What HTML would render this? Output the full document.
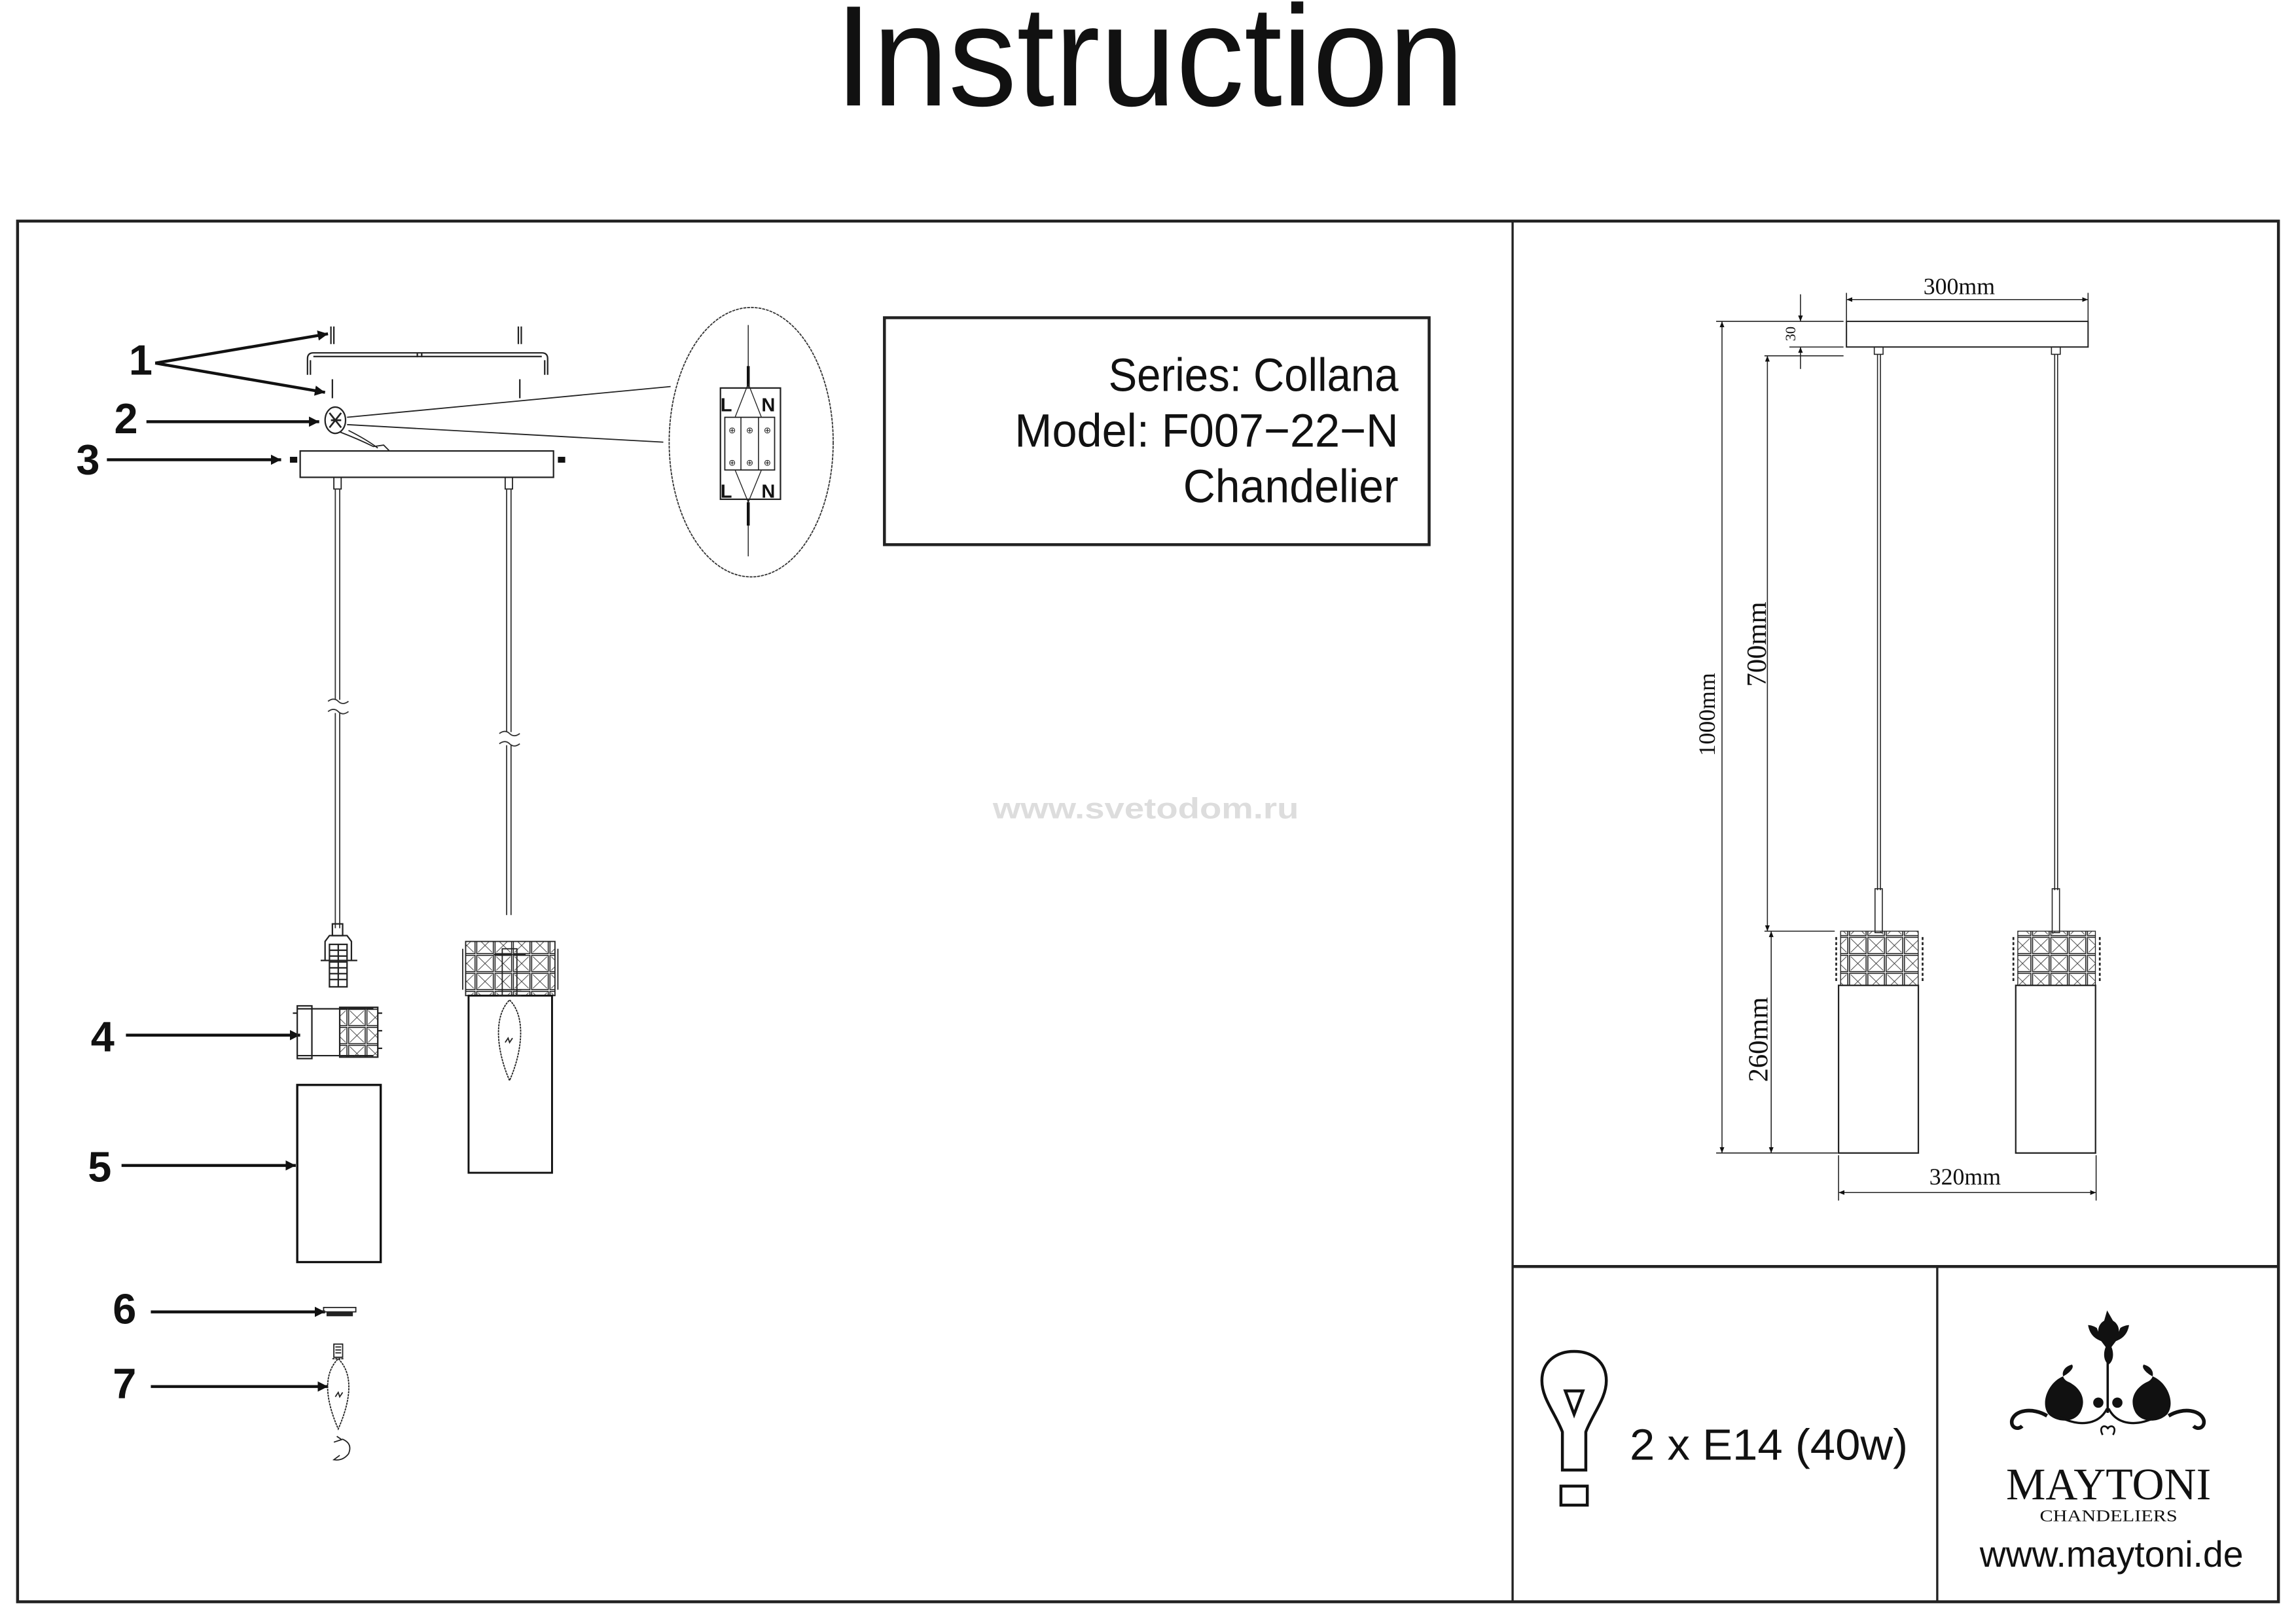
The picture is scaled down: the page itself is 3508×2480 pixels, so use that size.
<!DOCTYPE html>
<html><head><meta charset="utf-8"><style>
html,body{margin:0;padding:0;background:#fff;}
svg{display:block;}
text{font-family:"Liberation Sans",sans-serif;}
.serif{font-family:"Liberation Serif",serif;}
</style></head><body>
<svg width="3508" height="2480" viewBox="0 0 1568 1108.5" xmlns="http://www.w3.org/2000/svg">
<defs>
<marker id="ah" viewBox="0 0 10 10" refX="10" refY="5" markerWidth="7" markerHeight="7" orient="auto-start-reverse" markerUnits="userSpaceOnUse"><path d="M0,0 L10,5 L0,10 z" fill="#111"/></marker>
<marker id="ahs" viewBox="0 0 10 10" refX="10" refY="5" markerWidth="4" markerHeight="4" orient="auto-start-reverse" markerUnits="userSpaceOnUse"><path d="M0,1 L10,5 L0,9 z" fill="#111"/></marker>
<pattern id="cr" width="12.5" height="12.3" patternUnits="userSpaceOnUse">
<rect x="0.6" y="0.6" width="11.3" height="11.1" fill="none" stroke="#222" stroke-width="0.7"/>
<path d="M1.5,1.5 L11,10.8 M11,1.5 L1.5,10.8" stroke="#333" stroke-width="0.4"/>
</pattern>
</defs>
<rect width="1568" height="1108.5" fill="#fff"/>

<text x="570" y="72" font-size="98" textLength="430" lengthAdjust="spacingAndGlyphs" fill="#111">Instruction</text>

<rect x="12" y="151" width="1544" height="943" fill="none" stroke="#222" stroke-width="2"/>
<line x1="1033" y1="151" x2="1033" y2="1094" stroke="#222" stroke-width="1.5"/>
<line x1="1033" y1="865" x2="1556" y2="865" stroke="#222" stroke-width="2"/>
<line x1="1323" y1="865" x2="1323" y2="1094" stroke="#222" stroke-width="1.5"/>

<rect x="604" y="217" width="372" height="155" fill="none" stroke="#222" stroke-width="2"/>
<text x="757" y="267" font-size="32" textLength="198" lengthAdjust="spacingAndGlyphs" fill="#111">Series: Collana</text>
<text x="693" y="305" font-size="32" textLength="262" lengthAdjust="spacingAndGlyphs" fill="#111">Model: F007−22−N</text>
<text x="808" y="343" font-size="32" textLength="147" lengthAdjust="spacingAndGlyphs" fill="#111">Chandelier</text>

<text x="678" y="559" font-size="20" font-weight="bold" textLength="209" lengthAdjust="spacingAndGlyphs" fill="#ddd">www.svetodom.ru</text>

<g font-weight="bold" font-size="29" fill="#111">
<text x="88" y="256">1</text>
<text x="78" y="296">2</text>
<text x="52" y="324">3</text>
<text x="62" y="718">4</text>
<text x="60" y="807">5</text>
<text x="77" y="904">6</text>
<text x="77" y="955">7</text>
</g>
<g stroke="#111" stroke-width="2" fill="none">
<line x1="106" y1="248" x2="224" y2="228" marker-end="url(#ah)"/>
<line x1="106" y1="248" x2="222" y2="268" marker-end="url(#ah)"/>
<line x1="100" y1="288" x2="218" y2="288" marker-end="url(#ah)"/>
<line x1="73" y1="314" x2="192" y2="314" marker-end="url(#ah)"/>
<line x1="86" y1="707" x2="205" y2="707" marker-end="url(#ah)"/>
<line x1="83" y1="796" x2="202" y2="796" marker-end="url(#ah)"/>
<line x1="103" y1="896" x2="222" y2="896" marker-end="url(#ah)"/>
<line x1="103" y1="947" x2="224" y2="947" marker-end="url(#ah)"/>
</g>

<g stroke="#222" stroke-width="1" fill="none">
<path d="M226,223 v12 M228,223 v12"/>
<path d="M354,223 v12 M356,223 v12"/>
<path d="M210,256 V245 Q210,241 214,241 H370 Q374,241 374,245 V256"/>
<path d="M212,256 V246 M372,256 V246 M214,243.5 H370"/>
<path d="M285,241 v3 M288,241 v3"/>
<path d="M227,259 v13 M355,259 v13"/>
</g>
<ellipse cx="229" cy="287" rx="7" ry="9" fill="none" stroke="#222" stroke-width="1"/>
<path d="M225,282 l8,10 M233,282 l-8,10 M226,287 h7" stroke="#222" stroke-width="1.2"/>
<path d="M232,295 Q245,300 255,305 L262,304 L266,308 M238,294 Q250,300 258,306" stroke="#222" stroke-width="0.8" fill="none"/>
<line x1="237" y1="285" x2="458" y2="264" stroke="#222" stroke-width="0.8"/>
<line x1="237" y1="290" x2="453" y2="302" stroke="#222" stroke-width="0.8"/>
<ellipse cx="513" cy="302" rx="56" ry="92" fill="none" stroke="#333" stroke-width="0.8" stroke-dasharray="2,0.6"/>
<line x1="511" y1="222" x2="511" y2="380" stroke="#333" stroke-width="0.7"/>
<path d="M511,250 v14 M511,343 v16" stroke="#111" stroke-width="2"/>
<rect x="492" y="265" width="41" height="76" fill="#fff" stroke="#222" stroke-width="1"/>
<rect x="495" y="285" width="34" height="36" fill="none" stroke="#222" stroke-width="0.8"/>
<path d="M506,285 v36 M518,285 v36" stroke="#222" stroke-width="0.7"/>
<path d="M511,262 L502,285 M511,262 L520,285 M511,343 L502,321 M511,343 L520,321" stroke="#222" stroke-width="0.6" fill="none"/>
<g font-size="13" font-weight="bold" fill="#111">
<text x="492" y="281">L</text><text x="520" y="281">N</text>
<text x="492" y="340">L</text><text x="520" y="340">N</text>
</g>
<g font-size="6" fill="#222" text-anchor="middle">
<text x="500" y="296">⊕</text><text x="512" y="296">⊕</text><text x="524" y="296">⊕</text>
<text x="500" y="318">⊕</text><text x="512" y="318">⊕</text><text x="524" y="318">⊕</text>
</g>

<rect x="205" y="308" width="173" height="18" fill="#fff" stroke="#222" stroke-width="1"/>
<rect x="198" y="312" width="5" height="4" fill="#111"/>
<rect x="381" y="312" width="5" height="4" fill="#111"/>
<path d="M228,326 v8 h5 v-8 M345,326 v8 h5 v-8" stroke="#222" stroke-width="0.8" fill="none"/>
<g stroke="#333" stroke-width="0.8">
<path d="M229,334 V478 M232,334 V478 M229,487 V634 M232,487 V634"/>
<path d="M346,334 V500 M349,334 V500 M346,509 V625 M349,509 V625"/>
</g>
<path d="M224,479 q4,-3 7,0 t7,0 M224,486 q4,-3 7,0 t7,0" stroke="#333" stroke-width="0.8" fill="none"/>
<path d="M341,501 q4,-3 7,0 t7,0 M341,508 q4,-3 7,0 t7,0" stroke="#333" stroke-width="0.8" fill="none"/>

<g stroke="#222" stroke-width="1" fill="none">
<rect x="227" y="631" width="7" height="8"/>
<path d="M222,656 V643 L225,639 H237 L240,643 V656 M219,656 H244"/>
<rect x="225" y="645" width="12" height="29"/>
<path d="M225,649 h12 M225,653 h12 M225,657 h12 M225,661 h12 M225,665 h12 M225,669 h12 M231,645 v29"/>
</g>
<g stroke="#222" stroke-width="1" fill="none">
<rect x="203" y="687" width="10" height="36"/>
<path d="M203,689 H255 M203,721 H255"/>
<rect x="232" y="688" width="26" height="34" fill="url(#cr)"/>
<path d="M200,692 h3 M258,692 h3 M258,704 h3 M258,716 h3"/>
</g>
<rect x="203" y="741" width="57" height="121" fill="none" stroke="#111" stroke-width="1.5"/>
<rect x="221" y="893" width="22" height="3" fill="none" stroke="#222" stroke-width="0.8"/>
<rect x="223" y="896" width="18" height="3" fill="#222"/>
<g stroke="#222" stroke-width="0.8" fill="none">
<rect x="228" y="918" width="6" height="9"/>
<path d="M229,920 h4 M229,922 h4 M229,924 h4"/>
<path d="M227,928 h8 M231,928 C243,940 238,960 231,976 C224,960 219,940 231,928" stroke-dasharray="1.5,0.5"/>
<path d="M229,954 l2,-3 l1,3 l2,-3"/>
<path d="M228,985 l6,-2 q7,3 4,10 q-4,5 -10,4 l4,-3 M233,983 l-3,-2"/>
</g>

<rect x="318" y="643" width="61" height="37" fill="url(#cr)" stroke="#222" stroke-width="0.8"/>
<g stroke="#222" stroke-width="0.8" fill="none">
<path d="M316,648 v28 M381,648 v28"/>
<rect x="320" y="680" width="57" height="121" stroke="#111" stroke-width="1.3"/>
<rect x="343" y="648" width="10" height="32"/>
<path d="M337,652 h22 M340,676 h16 M340,680 h16"/>
<path d="M348,683 C360,695 356,720 348,738 C340,720 336,695 348,683" stroke-dasharray="1.5,0.5"/>
<path d="M345,712 l2,-3 l1,3 l2,-3"/>
</g>

<g stroke="#222" stroke-width="0.7" fill="none">
<rect x="1261" y="219.5" width="165" height="17.5" stroke-width="0.9"/>
<line x1="1261" y1="204.6" x2="1426" y2="204.6" marker-start="url(#ahs)" marker-end="url(#ahs)"/>
<path d="M1261,219 V200 M1426,219 V200"/>
<path d="M1172,219.5 H1259 M1205,243 H1259 M1222,237 H1259"/>
<line x1="1229.6" y1="201" x2="1229.6" y2="219.5" marker-end="url(#ahs)"/>
<line x1="1229.6" y1="252" x2="1229.6" y2="237" marker-end="url(#ahs)"/>
<line x1="1176" y1="219.5" x2="1176" y2="787.5" marker-start="url(#ahs)" marker-end="url(#ahs)"/>
<line x1="1207" y1="243" x2="1207" y2="636" marker-start="url(#ahs)" marker-end="url(#ahs)"/>
<line x1="1209.6" y1="636" x2="1209.6" y2="787.5" marker-start="url(#ahs)" marker-end="url(#ahs)"/>
<path d="M1205,636 H1253 M1172,787.5 H1255"/>
<rect x="1280" y="237" width="6" height="5"/>
<rect x="1401" y="237" width="6" height="5"/>
<path d="M1282.2,242 V608 M1284.2,242 V608 M1403.2,242 V608 M1405.2,242 V608"/>
<rect x="1280.5" y="607" width="5" height="30"/>
<rect x="1401.5" y="607" width="5" height="30"/>
<rect x="1255.6" y="673" width="54.5" height="114.5" stroke-width="1"/>
<rect x="1376.6" y="673" width="54.5" height="114.5" stroke-width="1"/>
<path d="M1255.6,789 V820 M1431.5,789 V820"/>
<line x1="1255.6" y1="814.5" x2="1431.5" y2="814.5" marker-start="url(#ahs)" marker-end="url(#ahs)"/>
</g>
<rect x="1257" y="636" width="53" height="37" fill="url(#cr)" stroke="#222" stroke-width="0.6"/>
<rect x="1378" y="636" width="53" height="37" fill="url(#cr)" stroke="#222" stroke-width="0.6"/>
<path d="M1254,640 v30 M1313,640 v30 M1375,640 v30 M1434,640 v30" stroke="#222" stroke-width="1.2" stroke-dasharray="2,1.5"/>
<g font-size="16" fill="#111">
<text x="1338" y="201" text-anchor="middle" class="serif">300mm</text>
<text x="1342" y="809" text-anchor="middle" class="serif">320mm</text>
<text transform="translate(1226,228) rotate(-90)" text-anchor="middle" font-size="10" class="serif">30</text>
<text transform="translate(1171,488) rotate(-90)" text-anchor="middle" class="serif">1000mm</text>
<text transform="translate(1206,440) rotate(-90)" text-anchor="middle" font-size="19" class="serif">700mm</text>
<text transform="translate(1207,710) rotate(-90)" text-anchor="middle" font-size="19" class="serif">260mm</text>
</g>

<g stroke="#111" stroke-width="2" fill="none">
<path d="M1067,1004 V978 C1062,965 1053,955 1053,943 C1053,930 1063,923 1075,923 C1087,923 1097,930 1097,943 C1097,955 1088,965 1083,978 V1004 Z"/>
<path d="M1069,950 H1081 L1075,966 Z"/>
<rect x="1066" y="1015" width="18" height="13"/>
</g>
<text x="1113" y="997" font-size="30" textLength="190" lengthAdjust="spacingAndGlyphs" fill="#111">2 x E14 (40w)</text>

<g fill="#111">
<path d="M1439,895 l4,7 c5,3 5,9 2,13 l3,-8 c3,-2 6,-2 6,-2 c-1,6 -4,9 -9,11 l-3,4 c2,5 1,10 -2,12 c-3,-2 -4,-7 -2,-12 l-3,-4 c-5,-2 -8,-5 -9,-11 c0,0 3,0 6,2 l3,8 c-3,-4 -3,-10 2,-13 z"/>
<rect x="1438.6" y="930" width="1.6" height="35"/>
<path d="M1415,932 c-8,2 -8,10 -2,12 c8,4 12,12 8,20 c-4,8 -16,8 -22,2 c-6,-8 0,-22 10,-26 c4,-2 8,-6 6,-8 z"/>
<path d="M1464,932 c8,2 8,10 2,12 c-8,4 -12,12 -8,20 c4,8 16,8 22,2 c6,-8 0,-22 -10,-26 c-4,-2 -8,-6 -6,-8 z"/>
<circle cx="1433" cy="958" r="3.5"/><circle cx="1446" cy="958" r="3.5"/>
</g>
<g stroke="#111" stroke-width="2.5" fill="none">
<path d="M1398,967 c-10,-6 -22,-4 -24,3 c-1,5 4,7 7,4"/>
<path d="M1481,967 c10,-6 22,-4 24,3 c1,5 -4,7 -7,4"/>
<path d="M1439,962 c-6,12 -20,12 -32,6 M1440,962 c6,12 20,12 32,6" stroke-width="1.5"/>
<path d="M1436,980 c-3,-5 1,-8 4,-4 M1443,980 c3,-5 -1,-8 -4,-4" stroke-width="1.2"/>
</g>
<text x="1440" y="1024" font-size="31" text-anchor="middle" class="serif" textLength="140" lengthAdjust="spacingAndGlyphs" fill="#111">MAYTONI</text>
<text x="1440" y="1039" font-size="11.5" text-anchor="middle" class="serif" textLength="94" lengthAdjust="spacingAndGlyphs" fill="#111">CHANDELIERS</text>
<text x="1442" y="1070" font-size="25" text-anchor="middle" textLength="180" lengthAdjust="spacingAndGlyphs" fill="#111">www.maytoni.de</text>
</svg>
</body></html>
